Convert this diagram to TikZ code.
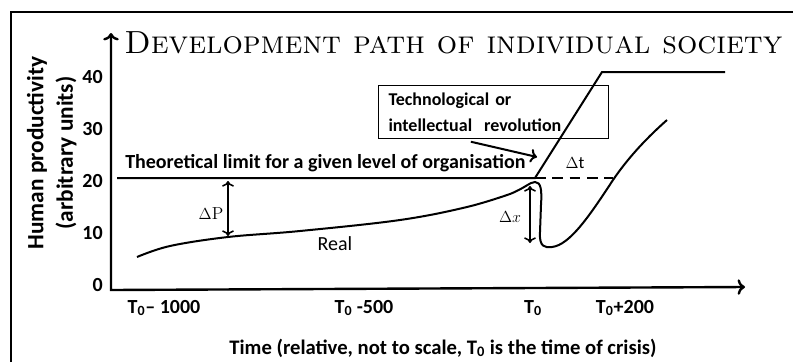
\documentclass[tikz,border=0pt]{standalone}
\usepackage{fontspec}
\newfontfamily\calibfont{Carlito}
\usetikzlibrary{positioning,arrows.meta}

\tikzset{
  axis/.style={line width=1.8pt,<->},
  curve/.style={line width=1.5pt},
  gap/.style={line width=1.2pt,<->},
  lbl/.style={font=\calibfont\bfseries\fontsize{15}{17}\selectfont,inner sep=0pt},
  ticklbl/.style={font=\calibfont\bfseries\fontsize{15}{17}\selectfont,inner sep=0pt},
  ytitlelbl/.style={font=\calibfont\bfseries\fontsize{17.5}{20}\selectfont,inner sep=0pt,rotate=90},
  delta/.style={font=\fontsize{13}{15}\selectfont,inner sep=0pt}
}

\begin{document}
\begin{tikzpicture}[x=0.75pt,y=-0.75pt]
  \useasboundingbox (0,0) rectangle (793,362);
  % frame
  \draw[line width=1.5pt] (11,362) -- (11,12) -- (793,12);

  % axes
  \coordinate (origin) at (111,290);
  \coordinate (ytop) at (111,33);
  \coordinate (xend) at (745,287);
  \draw[axis] (ytop) -- (origin) -- (xend);

  \node[ticklbl, anchor=east] (y0) at (103,285) {0};
  \node[ticklbl, anchor=east] (y10) at (103,233) {10};
  \node[ticklbl, anchor=east] (y20) at (103,181) {20};
  \node[ticklbl, anchor=east] (y30) at (103,129) {30};
  \node[ticklbl, anchor=east] (y40) at (103,77) {40};
  \node[ytitlelbl] (ytitle) at (37,153) {Human productivity};
  \node[ytitlelbl] (yunits) at (66,153) {(arbitrary units)};

  \node[lbl] (xa) at (164,308) {T\textsubscript{0}– 1000};
  \node[lbl] (xb) at (364,308) {T\textsubscript{0} -500};
  \node[lbl] (xc) at (533,308) {T\textsubscript{0}};
  \node[lbl] (xd) at (625,308) {T\textsubscript{0}+200};
  \node[lbl, font=\calibfont\bfseries\fontsize{15.5}{17}\selectfont] (xtitle) at (443,348) {Time (relative, not to scale, T\textsubscript{0} is the time of crisis)};

  % title
  \node[inner sep=0pt, anchor=base west, font=\fontsize{24}{28}\selectfont\scshape] (title) at (124,53) {Development path of individual society};

  % theoretical limit and revolution
  \coordinate (limstart) at (117,178);
  \coordinate (crisis) at (535,178);
  \coordinate (limend) at (613,178);
  \coordinate (revtop) at (602,72);
  \coordinate (revend) at (725,72);
  \draw[curve] (limstart) -- (crisis) -- (revtop) -- (revend);
  \draw[curve, dashed, dash pattern=on 8pt off 5pt] (crisis) -- (limend);
  \node[lbl, anchor=base west] (limlbl) at (125,168) {Theoretical limit for a given level of organisation};

  \node[draw, line width=0.8pt, anchor=north west, minimum width=172.5pt, minimum height=39.75pt,
        text width=157.5pt, inner xsep=7.5pt, align=left, font=\calibfont\bfseries\fontsize{13.5}{19.5}\selectfont] (revbox) at (378,85)
        {Technological or\\intellectual\ \ revolution};
  \coordinate (revtip) at (537,157);
  \draw[line width=1.5pt, ->] ([xshift=-17pt,yshift=-2pt]revbox.south) -- (revtip);

  % real path
  \draw[curve] plot[smooth, tension=0.6] coordinates {(137,257) (170,246) (228,237) (300,231) (400,220) (467,207) (510,194)}
    .. controls (525,188) and (530,182) .. (535,182)
    .. controls (541,182) and (542,190) .. (541,205) -- (540,232)
    .. controls (539,247) and (545,248) .. (552,247)
    .. controls (570,245) and (590,215) .. (613,180)
    .. controls (630,155) and (650,135) .. (667,120);
  \node[lbl, font=\calibfont\fontsize{15}{17}\selectfont] (reallbl) at (335,244) {Real};

  % gaps
  \coordinate (dPtop) at (228,181);
  \coordinate (dPbot) at (228,236);
  \draw[gap] (dPtop) -- (dPbot);
  \node[delta] (dPlbl) at (211,214) {$\Delta$P};
  \coordinate (dxtop) at (530,186);
  \coordinate (dxbot) at (530,243);
  \draw[gap] (dxtop) -- (dxbot);
  \node[delta] (dxlbl) at (510,217) {$\Delta x$};
  \node[delta, font=\calibfont\fontsize{13}{15}\selectfont] (dtlbl) at (575,163) {$\Delta$t};
\end{tikzpicture}
\end{document}
